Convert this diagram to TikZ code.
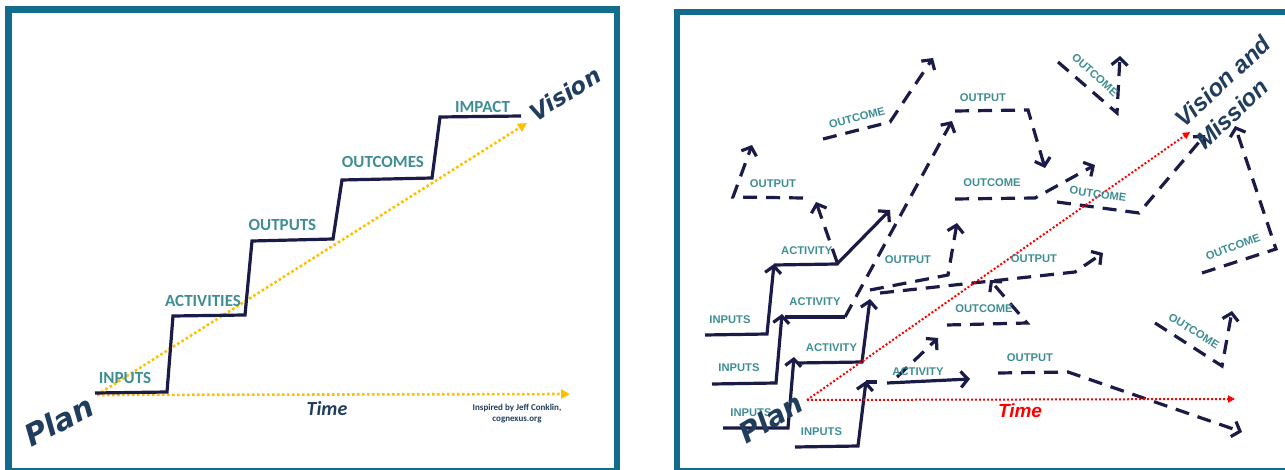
\documentclass[tikz,border=0pt]{standalone}
\usepackage{fontspec}
\newfontfamily\calibri{Carlito}
\newfontfamily\arialfont{Liberation Sans}
\newfontfamily\dejavu{DejaVu Sans}
\usetikzlibrary{arrows.meta}

\definecolor{frameblue}{HTML}{146C8C}
\definecolor{stepteal}{HTML}{3E8E94}
\definecolor{navy}{HTML}{1B1B48}
\definecolor{slate}{HTML}{213D5E}
\definecolor{gold}{HTML}{FFC000}

\begin{document}
\begin{tikzpicture}[
  x=0.5pt, y=-0.5pt,
  frame/.style={draw=frameblue, line width=3.3pt},
  stair/.style={draw=navy, line width=1.6pt},
  stepname/.style={text=stepteal, font=\calibri\bfseries\fontsize{8.5}{10}\selectfont, inner sep=0pt},
  tag/.style={text=stepteal, font=\arialfont\bfseries\fontsize{5.6}{6.5}\selectfont, inner sep=0pt},
  route/.style={draw=navy, line width=1.6pt, -{Straight Barb[length=3.5pt,width=8pt]}},
  dashroute/.style={route, dash pattern=on 7pt off 4.5pt},
  golddots/.style={draw=gold, line width=1.3pt, dash pattern=on 1.3pt off 1.2pt, -{Triangle[length=4.5pt,width=4.5pt]}},
  reddots/.style={draw=red, line width=1pt, dash pattern=on 1pt off 1pt, -{Triangle[length=3.5pt,width=3.5pt]}},
  bigword/.style={text=slate, font=\dejavu\bfseries\itshape\fontsize{15}{17}\selectfont, inner sep=0pt}
]
\useasboundingbox (0,0) rectangle (1285,470);

% Frames
\draw[frame] (8.5,9.5) rectangle (617,471);
\draw[frame] (1290,12) -- (677,12) -- (677,471) -- (1290,471);

% ---------- Left: the planned staircase ----------
\coordinate (origL) at (97,395);
\coordinate (visionTip) at (527,123);
\coordinate (timeTip) at (570,394);
\draw[golddots] (origL) -- (timeTip);
\draw[golddots] (origL) -- (visionTip);

\draw[stair] (95,393) -- (167,392) -- (173,316) -- (245,315) -- (252,241)
  -- (333,239) -- (342,180) -- (432,178) -- (440,117) -- (521,116);

\node[stepname] (inputs) at (125,378) {INPUTS};
\node[stepname] (activities) at (203,301) {ACTIVITIES};
\node[stepname] (outputs) at (282.5,225) {OUTPUTS};
\node[stepname] (outcomes) at (383,162) {OUTCOMES};
\node[stepname] (impact) at (482.5,106.5) {IMPACT};

\node[bigword, rotate=27] (planL) at (59,421) {Plan};
\node[bigword, rotate=32, font=\dejavu\bfseries\itshape\fontsize{11.5}{13}\selectfont] (vision) at (565,94) {Vision};
\node[text=slate, font=\calibri\bfseries\itshape\fontsize{10}{12}\selectfont, inner sep=0pt] (timeL) at (327,409) {Time};
\node[text=slate, font=\calibri\bfseries\fontsize{4.5}{5.5}\selectfont, align=center, inner sep=0pt] (credit) at (517,414)
  {Inspired by Jeff Conklin,\\cognexus.org};

% ---------- Right: what really happens ----------
\coordinate (origR) at (807,400);
\coordinate (missionTip) at (1190,132);
\coordinate (timeTipR) at (1235,399);

% solid staircases
\draw[route] (705,335) -- (767,334) -- (774,264);
\draw[route] (774,265) -- (837,264) -- (890,210);
\draw[route] (712,384) -- (776,383) -- (782,314);
\draw[stair] (785,317) -- (845,317);
\draw[route] (723,428) -- (788,428) -- (794,357);
\draw[route] (797,363) -- (862,362) -- (870,299);
\draw[route] (795,447) -- (858,446) -- (866,381);
\draw[stair] (866,382) -- (877,382);
\draw[route] (887,383) -- (970,379);

% dashed detours
\draw[dashroute] (845,317) -- (952,121);
\draw[dashroute] (837,262) -- (816,202);
\draw[dashroute] (803,198) -- (733,197) -- (752,145);
\draw[dashroute] (823,139) -- (890,122) -- (933,58);
\draw[dashroute] (955,111) -- (1028,110) -- (1045,168);
\draw[dashroute] (955,199) -- (1035,198) -- (1095,165);
\draw[dashroute] (1057,202) -- (1139,213) -- (1205,135);
\draw[dashroute] (1058,62) -- (1117,113) -- (1120,56);
\draw[dashroute] (1202,273) -- (1276,249) -- (1235,126);
\draw[dashroute] (1155,323) -- (1222,366) -- (1232,311);
\draw[dashroute] (998,373) -- (1068,372) -- (1242,432);
\draw[dashroute] (870,290) -- (948,275) -- (957,223);
\draw[dashroute] (880,293) -- (1075,272) -- (1103,253);
\draw[dashroute] (947,325) -- (1027,323) -- (990,280);
\draw[dashroute] (897,377) -- (938,338);

\draw[reddots] (origR) -- (timeTipR);
\draw[reddots] (origR) -- (missionTip);

% labels
\node[tag] (in1) at (730,320) {INPUTS};
\node[tag] (in2) at (739,368) {INPUTS};
\node[tag] (in3) at (751,413) {INPUTS};
\node[tag] (in4) at (821.5,432) {INPUTS};
\node[tag] (act1) at (806.7,251) {ACTIVITY};
\node[tag] (act2) at (815,302) {ACTIVITY};
\node[tag] (act3) at (831.5,348) {ACTIVITY};
\node[tag] (act4) at (918,372) {ACTIVITY};
\node[tag] (out1) at (773,184) {OUTPUT};
\node[tag] (out2) at (983,98) {OUTPUT};
\node[tag] (out3) at (908,260) {OUTPUT};
\node[tag] (out4) at (1034,259) {OUTPUT};
\node[tag] (out5) at (1030,358) {OUTPUT};
\node[tag, rotate=14] (oc1) at (857,118) {OUTCOME};
\node[tag] (oc2) at (992,183) {OUTCOME};
\node[tag, rotate=-8] (oc3) at (1098,194) {OUTCOME};
\node[tag, rotate=-42] (oc4) at (1095,75) {OUTCOME};
\node[tag, rotate=21] (oc5) at (1233,247) {OUTCOME};
\node[tag, rotate=-32] (oc6) at (1194,331) {OUTCOME};
\node[tag] (oc7) at (984,309) {OUTCOME};

\node[bigword, rotate=31, font=\dejavu\bfseries\itshape\fontsize{14}{16}\selectfont] (planR) at (771,418) {Plan};
\node[text=red, font=\arialfont\bfseries\itshape\fontsize{9.5}{11}\selectfont, inner sep=0pt] (timeR) at (1020,411) {Time};
\node[text=slate, font=\arialfont\bfseries\itshape\fontsize{12}{15}\selectfont, align=left, inner sep=0pt, rotate=43] (mission) at (1233,92)
  {Vision and\\Mission};

\end{tikzpicture}
\end{document}
